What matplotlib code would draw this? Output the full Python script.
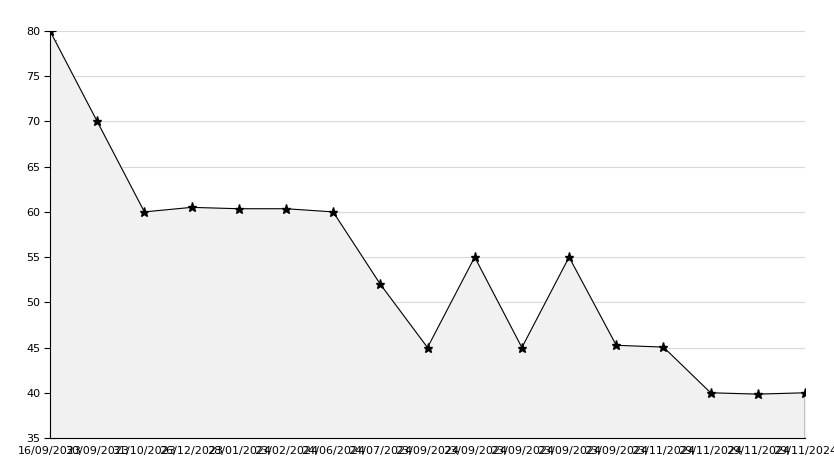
#Line chart with a shaded area under it
import numpy as np
import matplotlib.pyplot as plt
from matplotlib.ticker import MultipleLocator

#Data
dates = ["16/09/2023", "30/09/2023", "31/10/2023", "26/12/2023", "28/01/2024",
         "23/02/2024", "24/06/2024", "24/07/2024", "23/09/2024", "23/09/2024",
         "23/09/2024", "23/09/2024", "23/09/2024", "23/11/2024", "29/11/2024",
         "29/11/2024", "29/11/2024"]
values = [80, 70, 60, 60.5, 60.35, 60.35, 60, 52, 45, 55, 45, 55, 45.25, 45.05, 40, 39.85, 40]

x = np.arange(len(values))

fig = plt.figure(figsize=(8.34, 4.68), dpi=100)
ax = fig.add_axes([50/834, 1-438/468, 755/834, 407/468])

ax.fill_between(x, values, 35, color='#f1f1f1', zorder=1)
ax.plot([x[-1], x[-1]], [35, values[-1]], color='black', linewidth=1, zorder=3)
ax.plot(x, values, color='black', linewidth=0.8, marker='*', markersize=6.5, zorder=3)

ax.set_xlim(0, len(values) - 1)
ax.set_ylim(35, 80)
ax.set_xticks(x)
ax.set_xticklabels(dates, fontsize=8)
ax.yaxis.set_major_locator(MultipleLocator(5))
ax.yaxis.set_minor_locator(MultipleLocator(1))
ax.tick_params(axis='y', which='major', direction='inout', length=8, labelsize=8, pad=3)
ax.tick_params(axis='y', which='minor', direction='in', length=4, width=0.8)
ax.tick_params(axis='x', direction='in', length=5, pad=6)

ax.grid(axis='y', color='#d9d9d9', linewidth=0.8, zorder=0)
ax.set_axisbelow(True)
ax.spines['top'].set_visible(False)
ax.spines['right'].set_visible(False)

plt.savefig('out.png')
